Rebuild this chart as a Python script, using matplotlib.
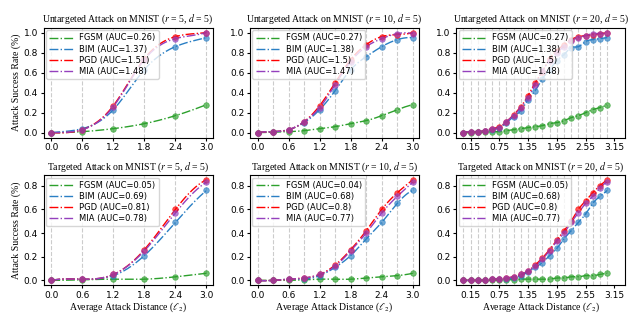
import numpy as np
import matplotlib
matplotlib.use('Agg')
import matplotlib.pyplot as plt

# x positions per step count
X5 = [0.0, 0.6, 1.2, 1.8, 2.4, 3.0]
X10 = [0.0, 0.3, 0.6, 0.9, 1.2, 1.5, 1.8, 2.1, 2.4, 2.7, 3.0]
X20 = [0.0, 0.15, 0.3, 0.45, 0.6, 0.75, 0.9, 1.05, 1.2, 1.35, 1.5,
       1.65, 1.8, 1.95, 2.1, 2.25, 2.4, 2.55, 2.7, 2.85, 3.0]

# untargeted
u5_fgsm = [0, 0.01, 0.04, 0.09, 0.17, 0.28]
u5_bim = [0, 0.04, 0.23, 0.63, 0.86, 0.95]
u5_pgd = [0, 0.03, 0.27, 0.74, 0.96, 1.0]
u5_mia = [0, 0.03, 0.26, 0.73, 0.94, 1.0]

u10_fgsm = [0, 0.005, 0.01, 0.02, 0.04, 0.06, 0.09, 0.12, 0.17, 0.23, 0.28]
u10_bim = [0, 0.01, 0.03, 0.10, 0.23, 0.42, 0.63, 0.76, 0.86, 0.93, 0.95]
u10_pgd = [0, 0.01, 0.03, 0.11, 0.27, 0.50, 0.73, 0.88, 0.96, 0.98, 1.0]
u10_mia = [0, 0.01, 0.03, 0.11, 0.25, 0.48, 0.71, 0.86, 0.94, 0.99, 0.99]

u20_fgsm = [0, 0, 0.005, 0.005, 0.01, 0.01, 0.02, 0.03, 0.04, 0.05, 0.06,
            0.07, 0.09, 0.10, 0.12, 0.15, 0.17, 0.20, 0.23, 0.25, 0.28]
u20_bim = [0, 0.01, 0.01, 0.02, 0.03, 0.05, 0.10, 0.16, 0.22, 0.33, 0.42,
           0.54, 0.63, 0.72, 0.78, 0.85, 0.86, 0.91, 0.93, 0.94, 0.95]
u20_pgd = [0, 0.01, 0.01, 0.02, 0.04, 0.06, 0.11, 0.18, 0.26, 0.37, 0.50,
           0.61, 0.74, 0.82, 0.88, 0.93, 0.96, 0.97, 0.98, 0.99, 1.0]
u20_mia = [0, 0.01, 0.01, 0.02, 0.04, 0.05, 0.11, 0.17, 0.25, 0.35, 0.48,
           0.62, 0.72, 0.80, 0.86, 0.92, 0.95, 0.97, 0.99, 0.99, 1.0]

# targeted
t5_fgsm = [0, 0.005, 0.01, 0.01, 0.03, 0.06]
t5_bim = [0, 0.01, 0.04, 0.21, 0.49, 0.76]
t5_pgd = [0, 0.01, 0.05, 0.26, 0.60, 0.85]
t5_mia = [0, 0.01, 0.05, 0.25, 0.57, 0.83]

t10_fgsm = [0, 0, 0, 0.005, 0.01, 0.01, 0.01, 0.02, 0.03, 0.04, 0.06]
t10_bim = [0, 0, 0.01, 0.01, 0.04, 0.11, 0.21, 0.35, 0.49, 0.65, 0.76]
t10_pgd = [0, 0, 0.01, 0.02, 0.05, 0.13, 0.26, 0.42, 0.60, 0.74, 0.85]
t10_mia = [0, 0, 0.01, 0.02, 0.05, 0.12, 0.25, 0.40, 0.57, 0.71, 0.83]

t20_fgsm = [0, 0, 0, 0, 0, 0, 0.005, 0.005, 0.01, 0.01, 0.01,
            0.01, 0.01, 0.02, 0.02, 0.03, 0.03, 0.04, 0.04, 0.05, 0.06]
t20_bim = [0, 0, 0, 0, 0.01, 0.01, 0.01, 0.02, 0.04, 0.07, 0.11,
           0.15, 0.21, 0.27, 0.35, 0.42, 0.49, 0.56, 0.65, 0.71, 0.76]
t20_pgd = [0, 0, 0, 0, 0.01, 0.01, 0.02, 0.03, 0.05, 0.08, 0.13,
           0.19, 0.26, 0.34, 0.42, 0.50, 0.60, 0.67, 0.74, 0.80, 0.85]
t20_mia = [0, 0, 0, 0, 0.01, 0.01, 0.02, 0.03, 0.05, 0.08, 0.12,
           0.18, 0.25, 0.33, 0.40, 0.49, 0.57, 0.65, 0.71, 0.78, 0.83]

auc = {
    ('u', 5): [0.26, 1.37, 1.51, 1.48],
    ('u', 10): [0.27, 1.38, 1.5, 1.47],
    ('u', 20): [0.27, 1.38, 1.5, 1.48],
    ('t', 5): [0.05, 0.69, 0.81, 0.78],
    ('t', 10): [0.04, 0.68, 0.8, 0.77],
    ('t', 20): [0.05, 0.68, 0.8, 0.77],
}

methods = ['FGSM', 'BIM', 'PGD', 'MIA']
colors = ['#2ca02c', '#2a7fc4', '#ff0000', '#9440bd']


def spline(x, y, xs):
    # not-a-knot cubic spline through the points (display smoothing only)
    x = np.asarray(x, float)
    y = np.asarray(y, float)
    n = len(x)
    h = np.diff(x)
    A = np.zeros((n, n))
    b = np.zeros(n)
    A[0, 0], A[0, 1], A[0, 2] = h[1], -(h[0] + h[1]), h[0]
    A[-1, -3], A[-1, -2], A[-1, -1] = h[-1], -(h[-2] + h[-1]), h[-2]
    for i in range(1, n - 1):
        A[i, i - 1] = h[i - 1]
        A[i, i] = 2 * (h[i - 1] + h[i])
        A[i, i + 1] = h[i]
        b[i] = 6 * ((y[i + 1] - y[i]) / h[i] - (y[i] - y[i - 1]) / h[i - 1])
    M = np.linalg.solve(A, b)
    idx = np.clip(np.searchsorted(x, xs) - 1, 0, n - 2)
    x0, x1 = x[idx], x[idx + 1]
    hh = x1 - x0
    return (M[idx] * (x1 - xs) ** 3 / (6 * hh) + M[idx + 1] * (xs - x0) ** 3 / (6 * hh)
            + (y[idx] / hh - M[idx] * hh / 6) * (x1 - xs)
            + (y[idx + 1] / hh - M[idx + 1] * hh / 6) * (xs - x0))


panels = [
    ('u', 5, X5, [u5_fgsm, u5_bim, u5_pgd, u5_mia]),
    ('u', 10, X10, [u10_fgsm, u10_bim, u10_pgd, u10_mia]),
    ('u', 20, X20, [u20_fgsm, u20_bim, u20_pgd, u20_mia]),
    ('t', 5, X5, [t5_fgsm, t5_bim, t5_pgd, t5_mia]),
    ('t', 10, X10, [t10_fgsm, t10_bim, t10_pgd, t10_mia]),
    ('t', 20, X20, [t20_fgsm, t20_bim, t20_pgd, t20_mia]),
]

plt.rcParams['mathtext.fontset'] = 'stix'
serif = 'Liberation Serif'

fig, axes = plt.subplots(2, 3, figsize=(6.4, 3.14), dpi=100)
fig.subplots_adjust(left=0.068, right=0.977, top=0.912, bottom=0.092,
                    wspace=0.22, hspace=0.34)

for ax, (kind, r, xs, series) in zip(axes.flat, panels):
    for xv in xs:
        ax.axvline(xv, color='#cccccc', ls='--', lw=0.8, zorder=0)
    xf = np.linspace(0, 3.0, 300)
    for name, ys, c, a in zip(methods, series, colors, auc[(kind, r)]):
        ax.plot(xf, spline(xs, ys, xf), ls='-.', color=c, lw=1.0,
                label=f'{name} (AUC={a})')
        ax.scatter(xs, ys, color=c, s=16, alpha=0.65, zorder=3,
                   edgecolors=c, linewidths=0.6)
    title = 'Untargeted' if kind == 'u' else 'Targeted'
    ax.set_title(f'{title} Attack on MNIST ($r$ = {r}, $d$ = 5)',
                 fontsize=7, family=serif, pad=4)
    ax.tick_params(labelsize=6.5, length=2.5, pad=1.5)
    if kind == 'u':
        ax.set_yticks([0.0, 0.2, 0.4, 0.6, 0.8, 1.0])
        ax.set_ylim(-0.05, 1.05)
    else:
        ax.set_yticks([0.0, 0.2, 0.4, 0.6, 0.8])
        ax.set_ylim(-0.04, 0.89)
    if r == 20:
        ax.set_xticks([0.15, 0.75, 1.35, 1.95, 2.55, 3.15])
        ax.set_xlim(-0.15, 3.38)
    else:
        ax.set_xticks([0.0, 0.6, 1.2, 1.8, 2.4, 3.0])
        ax.set_xlim(-0.15, 3.12)
    ax.legend(loc='upper left', fontsize=6, handlelength=2.8,
              borderpad=0.4, labelspacing=0.25, handletextpad=0.8,
              borderaxespad=0.3)
    if r == 5:
        ax.set_ylabel('Attack Success Rate (%)', family=serif, fontsize=7,
                      labelpad=2)
    if kind == 't':
        ax.set_xlabel(r'Average Attack Distance ($\ell_2$)', family=serif,
                      fontsize=7, labelpad=0.5)

fig.savefig('out.png', dpi=100)
